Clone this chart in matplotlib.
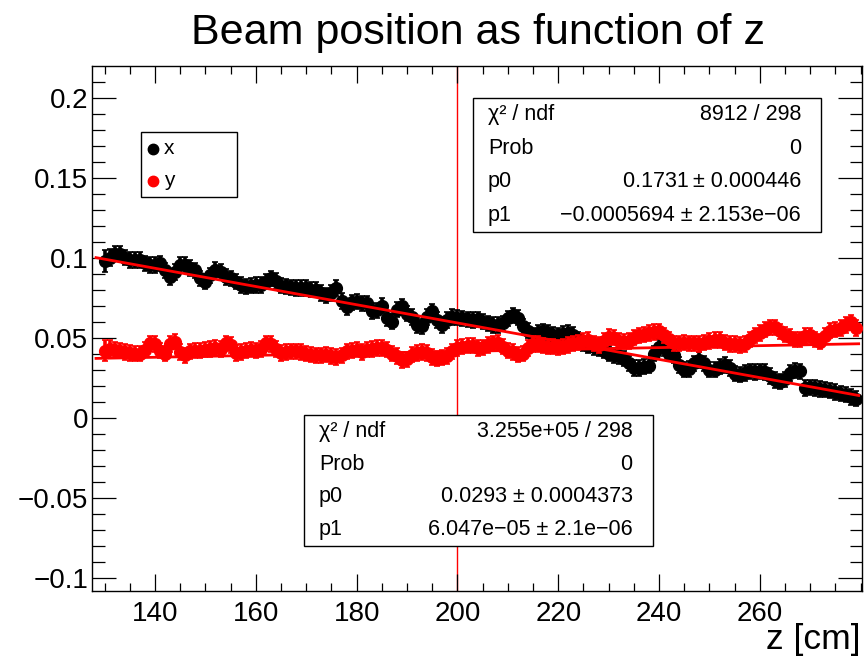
#!/usr/bin/env python3
"""
Beam position vs z: x and y centroids with straight-line fits (ROOT style).
Writes out.png (864x657).
"""

import numpy as np
import matplotlib
matplotlib.use("Agg")
import matplotlib.pyplot as plt
from matplotlib.patches import Rectangle
from matplotlib.lines import Line2D

plt.rcParams.update({
    "font.family": ["Liberation Sans", "DejaVu Sans"],
    "axes.unicode_minus": True,
})

# ─────────────────────────────────────────────────────────────────────────────
W, H = 864, 657

Z_CM = [
    130, 131, 132, 133, 134, 135, 136, 137, 138, 139,
    140, 141, 142, 143, 144, 145, 146, 147, 148, 149,
    150, 151, 152, 153, 154, 155, 156, 157, 158, 159,
    160, 161, 162, 163, 164, 165, 166, 167, 168, 169,
    170, 171, 172, 173, 174, 175, 176, 177, 178, 179,
    180, 181, 182, 183, 184, 185, 186, 187, 188, 189,
    190, 191, 192, 193, 194, 195, 196, 197, 198, 199,
    200, 201, 202, 203, 204, 205, 206, 207, 208, 209,
    210, 211, 212, 213, 214, 215, 216, 217, 218, 219,
    220, 221, 222, 223, 224, 225, 226, 227, 228, 229,
    230, 231, 232, 233, 234, 235, 236, 237, 238, 239,
    240, 241, 242, 243, 244, 245, 246, 247, 248, 249,
    250, 251, 252, 253, 254, 255, 256, 257, 258, 259,
    260, 261, 262, 263, 264, 265, 266, 267, 268, 269,
    270, 271, 272, 273, 274, 275, 276, 277, 278, 279,
]

BEAM_X = [
    0.0980, 0.1000, 0.1025, 0.1025, 0.1000, 0.0985, 0.0985, 0.0985, 0.0965, 0.0955,
    0.0955, 0.0965, 0.0920, 0.0880, 0.0910, 0.0955, 0.0955, 0.0935, 0.0920, 0.0870,
    0.0850, 0.0890, 0.0925, 0.0910, 0.0880, 0.0870, 0.0850, 0.0830, 0.0820, 0.0825,
    0.0830, 0.0830, 0.0850, 0.0870, 0.0855, 0.0825, 0.0820, 0.0815, 0.0810, 0.0810,
    0.0810, 0.0800, 0.0800, 0.0780, 0.0765, 0.0780, 0.0810, 0.0730, 0.0690, 0.0720,
    0.0725, 0.0715, 0.0715, 0.0665, 0.0670, 0.0700, 0.0620, 0.0600, 0.0675, 0.0695,
    0.0650, 0.0630, 0.0580, 0.0570, 0.0630, 0.0665, 0.0610, 0.0580, 0.0610, 0.0630,
    0.0625, 0.0620, 0.0615, 0.0610, 0.0615, 0.0600, 0.0590, 0.0580, 0.0580, 0.0590,
    0.0620, 0.0640, 0.0625, 0.0570, 0.0545, 0.0515, 0.0530, 0.0540, 0.0530, 0.0520,
    0.0515, 0.0525, 0.0530, 0.0520, 0.0490, 0.0465, 0.0450, 0.0440, 0.0435, 0.0420,
    0.0400, 0.0390, 0.0385, 0.0370, 0.0340, 0.0310, 0.0310, 0.0320, 0.0325, 0.0400,
    0.0445, 0.0435, 0.0400, 0.0390, 0.0330, 0.0300, 0.0305, 0.0340, 0.0360, 0.0340,
    0.0300, 0.0300, 0.0320, 0.0330, 0.0310, 0.0275, 0.0270, 0.0280, 0.0290, 0.0285,
    0.0290, 0.0285, 0.0260, 0.0235, 0.0225, 0.0240, 0.0280, 0.0295, 0.0290, 0.0185,
    0.0190, 0.0185, 0.0180, 0.0175, 0.0170, 0.0160, 0.0150, 0.0145, 0.0130, 0.0120,
]

BEAM_Y = [
    0.0420, 0.0430, 0.0425, 0.0420, 0.0410, 0.0405, 0.0400, 0.0400, 0.0425, 0.0465,
    0.0460, 0.0420, 0.0400, 0.0460, 0.0475, 0.0410, 0.0390, 0.0415, 0.0420, 0.0420,
    0.0425, 0.0430, 0.0435, 0.0430, 0.0465, 0.0455, 0.0405, 0.0410, 0.0420, 0.0425,
    0.0420, 0.0430, 0.0465, 0.0460, 0.0430, 0.0405, 0.0410, 0.0415, 0.0415, 0.0410,
    0.0400, 0.0395, 0.0390, 0.0390, 0.0395, 0.0385, 0.0380, 0.0390, 0.0415, 0.0420,
    0.0425, 0.0410, 0.0425, 0.0430, 0.0435, 0.0435, 0.0425, 0.0400, 0.0385, 0.0360,
    0.0365, 0.0395, 0.0405, 0.0410, 0.0405, 0.0380, 0.0370, 0.0375, 0.0385, 0.0415,
    0.0435, 0.0445, 0.0450, 0.0450, 0.0435, 0.0440, 0.0455, 0.0465, 0.0470, 0.0445,
    0.0420, 0.0410, 0.0395, 0.0400, 0.0435, 0.0460, 0.0460, 0.0450, 0.0445, 0.0445,
    0.0440, 0.0445, 0.0455, 0.0465, 0.0470, 0.0480, 0.0485, 0.0465, 0.0455, 0.0480,
    0.0505, 0.0500, 0.0480, 0.0475, 0.0480, 0.0500, 0.0515, 0.0520, 0.0530, 0.0535,
    0.0540, 0.0515, 0.0490, 0.0465, 0.0465, 0.0470, 0.0465, 0.0465, 0.0460, 0.0470,
    0.0480, 0.0485, 0.0485, 0.0470, 0.0460, 0.0460, 0.0455, 0.0460, 0.0490, 0.0515,
    0.0530, 0.0550, 0.0565, 0.0565, 0.0540, 0.0520, 0.0505, 0.0490, 0.0490, 0.0510,
    0.0515, 0.0490, 0.0475, 0.0510, 0.0545, 0.0550, 0.0560, 0.0580, 0.0595, 0.0560,
]

# uncertainties: first two points are wide, the rest about the same
ERR_HEAD = [0.0068, 0.0055]
ERR_BODY = 0.0048

# fit results shown in the stat boxes
FIT_X = {"chi2": "8912 / 298", "prob": "0",
         "p0": 0.1731, "p0_txt": "0.1731\u2009\u00b1 0.000446",
         "p1": -0.0005694, "p1_txt": "\u22120.0005694 \u00b1 2.153e\u221206"}
FIT_Y = {"chi2": "3.255e+05 / 298", "prob": "0",
         "p0": 0.0293, "p0_txt": "0.0293 \u00b1 0.0004373",
         "p1": 6.047e-05, "p1_txt": "6.047e\u221205 \u00b1 2.1e\u221206"}
FIT_RANGE = [128.3, 279.6]

MARK_Z = 200.0

X_LIM = (127.56, 280.2)
Y_LIM = (-0.1083, 0.2198)
X_TICKS = [140, 160, 180, 200, 220, 240, 260]
Y_TICKS = [-0.1, -0.05, 0, 0.05, 0.1, 0.15, 0.2]
Y_TICKLABELS = ["\u22120.1", "\u22120.05", "0", "0.05", "0.1", "0.15", "0.2"]
# ─────────────────────────────────────────────────────────────────────────────


def fx(px):
    return px / W


def fy(py):
    return 1.0 - py / H


def stat_box(fig, left, top, right, bottom, rows, fs):
    fig.add_artist(Rectangle((fx(left), fy(bottom)), fx(right) - fx(left),
                             fy(top) - fy(bottom), transform=fig.transFigure,
                             facecolor="white", edgecolor="black", lw=1.0,
                             zorder=10))
    step = (bottom - top) / len(rows)
    for i, (lab, val) in enumerate(rows):
        yc = fy(top + step * (i + 0.5))
        fig.text(fx(left + 15), yc, lab, ha="left", va="center",
                 fontsize=fs, zorder=11)
        fig.text(fx(right - 20), yc, val, ha="right", va="center",
                 fontsize=fs, zorder=11)


def main() -> None:
    fig = plt.figure(figsize=(W / 100, H / 100), dpi=100)
    ax = fig.add_axes([fx(92.3), fy(591), fx(861.7) - fx(92.3), fy(66) - fy(591)])

    z = np.array(Z_CM)
    err = np.array(ERR_HEAD + [ERR_BODY] * (len(Z_CM) - len(ERR_HEAD)))

    ax.axvline(MARK_Z, color="red", lw=1.0, zorder=1)
    ax.errorbar(z, BEAM_X, yerr=err, fmt="o", color="black", ms=8.5,
                elinewidth=2.6, capsize=2.2, capthick=1.2, zorder=3)
    ax.errorbar(z, BEAM_Y, yerr=err, fmt="o", color="red", ms=8.5,
                elinewidth=2.6, capsize=2.2, capthick=1.2, zorder=4)

    zf = np.array(FIT_RANGE)
    for fit in (FIT_X, FIT_Y):
        ax.plot(zf, fit["p0"] + fit["p1"] * zf, color="red", lw=2.0, zorder=5)

    ax.set_xlim(*X_LIM)
    ax.set_ylim(*Y_LIM)
    ax.set_xticks(X_TICKS)
    ax.set_xticks(np.arange(130, 281, 5), minor=True)
    ax.set_yticks(Y_TICKS)
    ax.set_yticklabels(Y_TICKLABELS)
    ax.set_yticks(np.arange(-0.1, 0.2151, 0.01), minor=True)

    ax.tick_params(direction="in", top=True, right=True, which="both",
                   width=0.9, labelsize=20)
    ax.tick_params(axis="x", which="major", length=12.2, pad=7)
    ax.tick_params(axis="x", which="minor", length=5.8)
    ax.tick_params(axis="y", which="major", length=17, pad=3)
    ax.tick_params(axis="y", which="minor", length=9)
    for sp in ax.spines.values():
        sp.set_linewidth(1.0)

    fig.text(fx(478), fy(33), "Beam position as function of z",
             ha="center", va="center", fontsize=31)
    fig.text(fx(860), fy(640), "z [cm]", ha="right", va="center", fontsize=25.5)

    # legend
    fig.add_artist(Rectangle((fx(141), fy(197)), fx(237) - fx(141),
                             fy(132) - fy(197), transform=fig.transFigure,
                             facecolor="white", edgecolor="black", lw=1.0,
                             zorder=10))
    for yc, col, lab in ((149, "black", "x"), (181, "red", "y")):
        fig.add_artist(Line2D([fx(153)], [fy(yc)], transform=fig.transFigure,
                              marker="o", ms=7.5, color=col, zorder=11))
        fig.text(fx(164), fy(yc), lab, ha="left", va="center",
                 fontsize=15, zorder=11)

    stat_box(fig, 473, 98, 821, 232,
             [("\u03c7\u00b2 / ndf", FIT_X["chi2"]), ("Prob", FIT_X["prob"]),
              ("p0", FIT_X["p0_txt"]), ("p1", FIT_X["p1_txt"])], 15.5)
    stat_box(fig, 304, 415, 652.7, 546,
             [("\u03c7\u00b2 / ndf", FIT_Y["chi2"]), ("Prob", FIT_Y["prob"]),
              ("p0", FIT_Y["p0_txt"]), ("p1", FIT_Y["p1_txt"])], 15.5)

    fig.savefig("out.png", dpi=100)
    plt.close(fig)


if __name__ == "__main__":
    main()
